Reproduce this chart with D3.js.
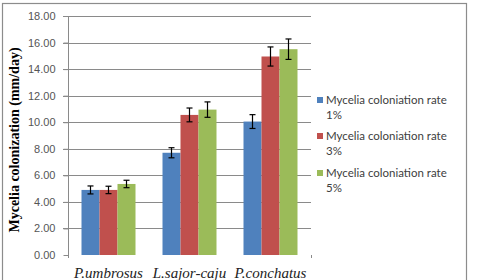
<!DOCTYPE html>
<html>
<head>
<meta charset="utf-8">
<script src="https://cdn.jsdelivr.net/npm/d3@7"></script>
<style>
  body { margin: 0; background: #fff; }
</style>
</head>
<body>
<svg id="chart" width="481" height="280"></svg>
<script>
// chart values
var species = ["P.umbrosus", "L.sajor-caju", "P.conchatus"];
var seriesNames = ["Mycelia coloniation rate 1%", "Mycelia coloniation rate 3%", "Mycelia coloniation rate 5%"];
var rate1 = [4.9, 7.7, 10.05];
var rate3 = [4.9, 10.55, 14.95];
var rate5 = [5.35, 10.95, 15.5];
var err1 = [0.3, 0.38, 0.52];
var err3 = [0.28, 0.52, 0.72];
var err5 = [0.28, 0.58, 0.77];
var yTicks = [0, 2, 4, 6, 8, 10, 12, 14, 16, 18];

var colors = ["#4F81BD", "#C0504D", "#9BBB59"];
var series = [rate1, rate3, rate5];
var errors = [err1, err3, err5];

var svg = d3.select("#chart");

// outer frame
svg.append("rect")
  .attr("x", 2.5).attr("y", 3.5)
  .attr("width", 464).attr("height", 290)
  .attr("fill", "#fff")
  .attr("stroke", "#8c8c8c")
  .attr("stroke-width", 1.2);

var margin = { top: 16, left: 68, right: 311, bottom: 255 };

var x = d3.scaleBand()
  .domain(species)
  .range([margin.left, margin.right])
  .paddingInner(0)
  .paddingOuter(0);

var x1 = d3.scaleBand()
  .domain([0, 1, 2])
  .range([0, x.bandwidth()])
  .paddingInner(0)
  .paddingOuter(0.75);

var y = d3.scaleLinear()
  .domain([0, 18])
  .range([margin.bottom, margin.top]);

// gridlines
svg.append("g")
  .selectAll("line")
  .data(yTicks.slice(1))
  .join("line")
  .attr("x1", margin.left - 5)
  .attr("x2", margin.right)
  .attr("y1", function(d) { return Math.round(y(d)) + 0.5; })
  .attr("y2", function(d) { return Math.round(y(d)) + 0.5; })
  .attr("stroke", "#8a8a8a")
  .attr("stroke-width", 1);

// y axis
var yAxis = svg.append("g")
  .attr("transform", "translate(" + (margin.left + 0.5) + ",0)")
  .call(d3.axisLeft(y).tickValues(yTicks).tickSize(5).tickFormat(d3.format(".2f")));
yAxis.select(".domain").attr("stroke", "#8a8a8a").attr("d", "M-5," + (y(18) + 0.5) + "H0V" + (margin.bottom + 3));
yAxis.selectAll(".tick line").attr("stroke", "#8a8a8a");
yAxis.selectAll(".tick text")
  .attr("x", -13)
  .attr("fill", "#555")
  .style("font-family", "'Liberation Sans', Arial, sans-serif")
  .style("font-size", "11px");

// small tick at the right end of the category axis
svg.append("line")
  .attr("x1", margin.right + 0.5).attr("x2", margin.right + 0.5)
  .attr("y1", margin.bottom).attr("y2", margin.bottom + 3)
  .attr("stroke", "#8a8a8a");

// bars
var groups = svg.append("g")
  .selectAll("g")
  .data(species)
  .join("g")
  .attr("transform", function(d) { return "translate(" + x(d) + ",0)"; });

groups.each(function(sp, i) {
  var g = d3.select(this);
  for (var s = 0; s < 3; s++) {
    var v = series[s][i];
    var e = errors[s][i];
    var bx = x1(s);
    g.append("rect")
      .attr("x", bx)
      .attr("y", y(v))
      .attr("width", x1.bandwidth())
      .attr("height", y(0) - y(v))
      .attr("fill", colors[s]);
    var cx = bx + x1.bandwidth() / 2;
    g.append("line")
      .attr("x1", cx).attr("x2", cx)
      .attr("y1", y(v + e)).attr("y2", y(v - e))
      .attr("stroke", "#000").attr("stroke-width", 1.2);
    g.append("line")
      .attr("x1", cx - 3).attr("x2", cx + 3)
      .attr("y1", y(v + e)).attr("y2", y(v + e))
      .attr("stroke", "#000").attr("stroke-width", 1.2);
    g.append("line")
      .attr("x1", cx - 3).attr("x2", cx + 3)
      .attr("y1", y(v - e)).attr("y2", y(v - e))
      .attr("stroke", "#000").attr("stroke-width", 1.2);
  }
});

// category labels
svg.append("g")
  .selectAll("text")
  .data(species)
  .join("text")
  .attr("x", function(d) { return x(d) + x.bandwidth() / 2; })
  .attr("y", 278)
  .attr("text-anchor", "middle")
  .attr("fill", "#222")
  .style("font-family", "'Liberation Serif', 'Times New Roman', serif")
  .style("font-style", "italic")
  .style("font-size", "15px")
  .text(function(d) { return d; });

// y axis title
svg.append("text")
  .attr("transform", "translate(19,140) rotate(-90)")
  .attr("text-anchor", "middle")
  .style("font-family", "'Liberation Serif', 'Times New Roman', serif")
  .style("font-weight", "bold")
  .style("font-size", "14px")
  .text("Mycelia colonization (mm/day)");

// legend
var legendY = [101, 137, 174];
var legend = svg.append("g")
  .selectAll("g")
  .data(seriesNames)
  .join("g")
  .attr("transform", function(d, i) { return "translate(317," + legendY[i] + ")"; });

legend.append("rect")
  .attr("x", 0).attr("y", -4)
  .attr("width", 6).attr("height", 6)
  .attr("fill", function(d, i) { return colors[i]; });

legend.append("text")
  .attr("x", 9)
  .attr("y", 3)
  .attr("fill", "#404040")
  .style("font-family", "Lato, 'Open Sans', sans-serif")
  .style("font-size", "11.5px")
  .each(function(d) {
    var parts = d.split(" ");
    var pct = parts.pop();
    d3.select(this).append("tspan").attr("x", 9).text(parts.join(" "));
    d3.select(this).append("tspan").attr("x", 9).attr("dy", 15).text(pct);
  });
</script>
</body>
</html>
